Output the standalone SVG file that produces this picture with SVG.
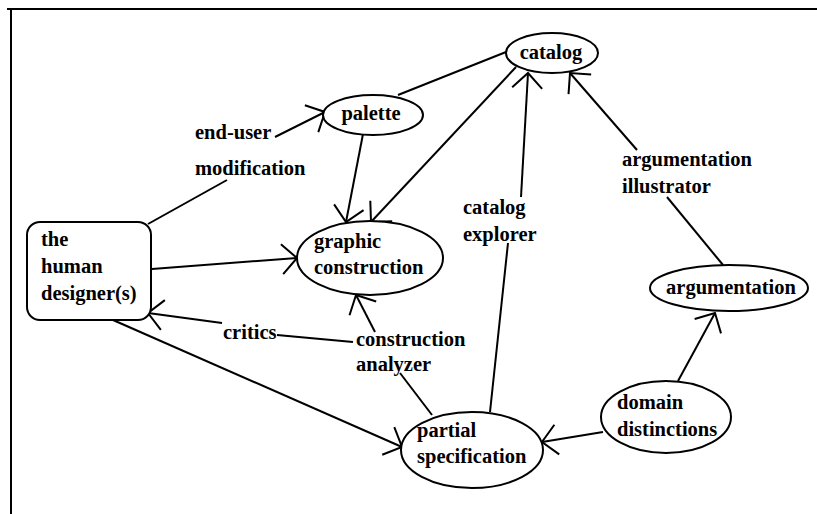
<svg xmlns="http://www.w3.org/2000/svg" width="817" height="514" viewBox="0 0 817 514">
<defs>
<style>
.t{font-family:"Liberation Serif","Times New Roman",serif;font-weight:bold;font-size:20.5px;fill:#000}
.n{fill:#fff;stroke:#000;stroke-width:2}
.c{fill:none;stroke:#000;stroke-width:2}
.a{marker-end:url(#ah)}
</style>
<marker id="ah" markerUnits="userSpaceOnUse" markerWidth="40" markerHeight="40" viewBox="-20 -20 40 40" refX="0" refY="0" orient="auto">
<path d="M-15,-15 L0,0 L-15,15" fill="none" stroke="#000" stroke-width="2"/>
</marker>
</defs>
<rect width="817" height="514" fill="#fff"/>
<path d="M7,9 H817 M11,9 V514" fill="none" stroke="#000" stroke-width="2"/>
<g id="connectors">
<path class="c" d="M148,224 L227,180"/>
<path class="c a" d="M275,137 L325,112"/>
<path class="c a" d="M152,269 L297,258"/>
<path class="c a" d="M363,134 L346,222"/>
<path class="c" d="M398,95 L506,52"/>
<path class="c a" d="M516,67 L371,222"/>
<path class="c" d="M490,412 L508,243"/>
<path class="c a" d="M521,197 L528,73"/>
<path class="c" d="M723,265 L667,197"/>
<path class="c a" d="M637,150 L570,73"/>
<path class="c a" d="M678,381 L715,313"/>
<path class="c a" d="M603,432 L542,442"/>
<path class="c a" d="M375,332 L356,295"/>
<path class="c" d="M400,373 L432,415"/>
<path class="c" d="M353,342 L277,335"/>
<path class="c a" d="M222,323 L148,313"/>
<path class="c a" d="M113,320 L402,447"/>
</g>
<g id="labels">
<text class="t" x="195" y="139">end-user</text>
<text class="t" x="195" y="175">modification</text>
<text class="t" x="223" y="339">critics</text>
<text class="t" x="356" y="346">construction</text>
<text class="t" x="356" y="371">analyzer</text>
<text class="t" x="463" y="214">catalog</text>
<text class="t" x="463" y="241">explorer</text>
<text class="t" x="622" y="166">argumentation</text>
<text class="t" x="622" y="193">illustrator</text>
</g>
<g id="human">
<rect class="n" x="27" y="222" width="124" height="98" rx="13"/>
<text class="t" x="41" y="246">the</text>
<text class="t" x="41" y="273">human</text>
<text class="t" x="41" y="300">designer(s)</text>
</g>
<g id="palette">
<ellipse class="n" cx="373" cy="115" rx="50" ry="20"/>
<text class="t" x="371" y="120" text-anchor="middle">palette</text>
</g>
<g id="catalog">
<ellipse class="n" cx="552" cy="53" rx="46" ry="20"/>
<text class="t" x="551" y="59" text-anchor="middle">catalog</text>
</g>
<g id="graphic">
<ellipse class="n" cx="370" cy="258" rx="73" ry="37"/>
<text class="t" x="314" y="248">graphic</text>
<text class="t" x="314" y="274">construction</text>
</g>
<g id="argumentation">
<ellipse class="n" cx="729" cy="288" rx="79" ry="23"/>
<text class="t" x="731" y="294" text-anchor="middle">argumentation</text>
</g>
<g id="domain">
<ellipse class="n" cx="666" cy="417" rx="65" ry="36"/>
<text class="t" x="617" y="409">domain</text>
<text class="t" x="617" y="436">distinctions</text>
</g>
<g id="partial">
<ellipse class="n" cx="472" cy="450" rx="71" ry="38"/>
<text class="t" x="417" y="437">partial</text>
<text class="t" x="417" y="463">specification</text>
</g>
</svg>
